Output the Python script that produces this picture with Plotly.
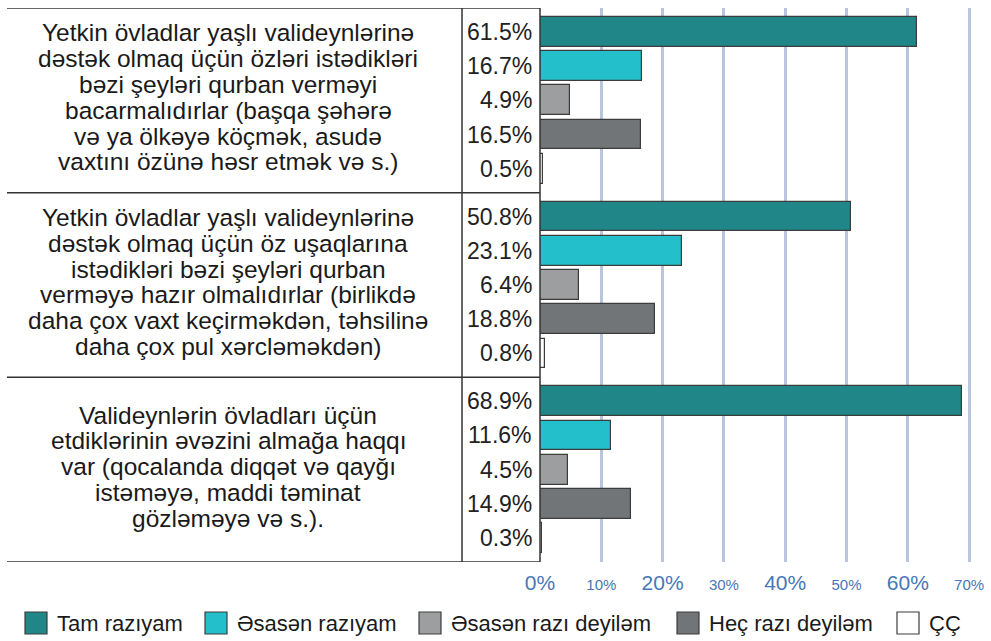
import plotly.graph_objects as go

# ---------------- data ----------------
statements = [
    ["Yetkin övladlar yaşlı valideynlərinə",
     "dəstək olmaq üçün özləri istədikləri",
     "bəzi şeyləri qurban verməyi",
     "bacarmalıdırlar (başqa şəhərə",
     "və ya ölkəyə köçmək, asudə",
     "vaxtını özünə həsr etmək və s.)"],
    ["Yetkin övladlar yaşlı valideynlərinə",
     "dəstək olmaq üçün öz uşaqlarına",
     "istədikləri bəzi şeyləri qurban",
     "verməyə hazır olmalıdırlar (birlikdə",
     "daha çox vaxt keçirməkdən, təhsilinə",
     "daha çox pul xərcləməkdən)"],
    ["Valideynlərin övladları üçün",
     "etdiklərinin əvəzini almağa haqqı",
     "var (qocalanda diqqət və qayğı",
     "istəməyə, maddi təminat",
     "gözləməyə və s.)."],
]
responses = ["Tam razıyam", "Əsasən razıyam", "Əsasən razı deyiləm", "Heç razı deyiləm", "ÇÇ"]
tam_raziyam = [61.5, 50.8, 68.9]
esasen_raziyam = [16.7, 23.1, 11.6]
esasen_razi_deyilem = [4.9, 6.4, 4.5]
hec_razi_deyilem = [16.5, 18.8, 14.9]
cc = [0.5, 0.8, 0.3]
series = [tam_raziyam, esasen_raziyam, esasen_razi_deyilem, hec_razi_deyilem, cc]
x_ticks = [0, 10, 20, 30, 40, 50, 60, 70]

# ---------------- styles ----------------
colors = ["#208688", "#23bfca", "#9c9e9f", "#727577", "#ffffff"]
FONT = "Liberation Sans, Arial, sans-serif"
W, H = 991, 641
L, R, T, B = 540, 10, 8, 79
PW, PH = W - L - R, H - T - B
G = 5.4          # y units per group
n_groups = len(statements)
n_series = len(series)
pad = (G - n_series) / 2
y_top = -0.5 - pad
y_bot = n_groups * G - 0.5 - pad


def px2x(px):
    return (px - L) / PW


def px2y(py):
    return (H - B - py) / PH


fig = go.Figure()
for k, vals in enumerate(series):
    ys = [g * G + k for g in range(n_groups)]
    fig.add_trace(go.Bar(
        x=vals, y=ys, orientation="h", width=0.87,
        name=responses[k], showlegend=False,
        marker=dict(color=colors[k], line=dict(color="#3c3c3c", width=1.2)),
        hoverinfo="x+name",
    ))

annotations = []
# value labels in the column left of the axis
for k, vals in enumerate(series):
    for g, v in enumerate(vals):
        annotations.append(dict(
            x=0, xref="x", y=g * G + k, yref="y",
            text=f"{v:.1f}%", showarrow=False, xanchor="right", yanchor="middle",
            xshift=-6, font=dict(family=FONT, size=23, color="#222222")))

# statement text, one annotation per line
LINE = 25.8
for g, lines in enumerate(statements):
    n = len(lines)
    yc = g * G + (n_series - 1) / 2
    for i, line in enumerate(lines):
        annotations.append(dict(
            x=px2x(228), xref="paper", y=yc, yref="y",
            text=line, showarrow=False, xanchor="center", yanchor="middle",
            yshift=-(i - (n - 1) / 2) * LINE + 3,
            font=dict(family=FONT, size=24.5, color="#1a1a1a")))

shapes = []
line_style = dict(color="#333333", width=1.5)
# horizontal table lines
for g in range(n_groups + 1):
    yy = y_top + g * G
    shapes.append(dict(type="line", xref="paper", yref="y",
                       x0=px2x(7), x1=0, y0=yy, y1=yy, line=line_style))
# vertical table lines
for xpx in (462, 540):
    shapes.append(dict(type="line", xref="paper", yref="y",
                       x0=px2x(xpx), x1=px2x(xpx), y0=y_top, y1=y_bot, line=line_style))

# custom legend
icon_x = [25, 205, 419, 677, 897]
for k, name in enumerate(responses):
    x0 = icon_x[k]
    shapes.append(dict(type="rect", xref="paper", yref="paper",
                       x0=px2x(x0), x1=px2x(x0 + 22), y0=px2y(612), y1=px2y(634),
                       fillcolor=colors[k], line=dict(color="#3c3c3c", width=1.2)))
    annotations.append(dict(
        x=px2x(x0 + 30), xref="paper", y=px2y(623), yref="paper",
        text=name, showarrow=False, xanchor="left", yanchor="middle",
        font=dict(family=FONT, size=22, color="#1a1a1a")))

tick_text = []
for i, t in enumerate(x_ticks):
    size = 21 if i % 2 == 0 else 15
    tick_text.append(f"<span style='font-size:{size}px'>{t}%</span>")

fig.update_layout(
    width=W, height=H,
    margin=dict(l=L, r=R, t=T, b=B, pad=0),
    paper_bgcolor="white", plot_bgcolor="white",
    bargap=0,
    xaxis=dict(range=[0, PW / 6.13], tickvals=x_ticks, ticktext=tick_text,
               showgrid=True, gridcolor="#b8c5dc", gridwidth=2.5,
               zeroline=False, showline=False, ticks="",
               ticklabelstandoff=6,
               tickfont=dict(family=FONT, size=21, color="#4677b8"),
               fixedrange=True),
    yaxis=dict(range=[y_bot, y_top], showticklabels=False, showgrid=False,
               zeroline=False, showline=False, ticks="", fixedrange=True),
    annotations=annotations,
    shapes=shapes,
    showlegend=False,
)

fig.write_html(
    "out.html",
    config={"displayModeBar": False},
    post_script="document.body.style.margin='0';document.body.style.overflow='hidden';",
)
